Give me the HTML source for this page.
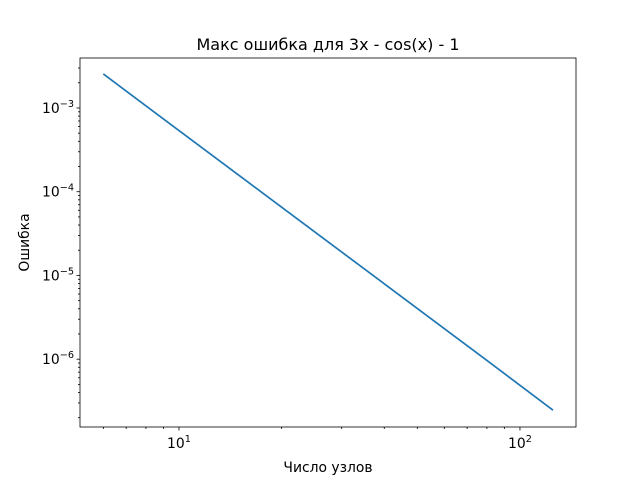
<!DOCTYPE html>
<html><head><meta charset="utf-8"><style>body{margin:0;background:#fff}svg{font-family:"DejaVu Sans","Liberation Sans",sans-serif}</style></head>
<body>
<svg id="chart" width="640" height="480" xmlns="http://www.w3.org/2000/svg">
<rect width="640" height="480" fill="#fff"/>
<text x="328" y="50" font-size="16" text-anchor="middle">Макс ошибка для 3x - cos(x) - 1</text>
<text x="328" y="472" font-size="13.9" text-anchor="middle">Число узлов</text>
<text transform="translate(29,242.5) rotate(-90)" font-size="13.9" text-anchor="middle">Ошибка</text>
<g id="ticks"></g>
<path id="line" fill="none" stroke="#1f77b4" stroke-width="1.7"/>
<rect x="80" y="58" width="496" height="369" fill="none" stroke="#000" stroke-width="0.8"/>
</svg>
<script>
const nodes = [6, 10, 20, 40, 80, 125];
const errors = [2.55e-3, 5.37e-4, 6.53e-5, 7.95e-6, 9.66e-7, 2.46e-7];
const xMajor = [1, 2];
const yMajor = [-3, -4, -5, -6];
const L=80,R=576,T=58,B=427;
const xl0=Math.log10(5.125), xl1=Math.log10(146);
const yl0=-6.81, yl1=-2.403;
const X=v=>L+(Math.log10(v)-xl0)/(xl1-xl0)*(R-L);
const Y=v=>B-(Math.log10(v)-yl0)/(yl1-yl0)*(B-T);
const NS="http://www.w3.org/2000/svg";
const g=document.getElementById('ticks');
function ln(x1,y1,x2,y2,name){const e=document.createElementNS(NS,'line');
e.setAttribute('x1',x1);e.setAttribute('y1',y1);e.setAttribute('x2',x2);e.setAttribute('y2',y2);
e.setAttribute('stroke','#000');e.setAttribute('stroke-width','0.8');


g.appendChild(e);}
function lbl(x,y,exp,anchor,name){const t=document.createElementNS(NS,'text');
t.setAttribute('x',x);t.setAttribute('y',y);t.setAttribute('font-size','13.9');t.setAttribute('text-anchor',anchor);
t.innerHTML='10<tspan font-size="9.7" dy="-6">'+exp+'</tspan>';


g.appendChild(t);}
for(let d=0;d<=2;d++)for(let m=1;m<10;m++){const v=m*Math.pow(10,d);if(v<5.125||v>146)continue;
const x=X(v);if(m===1){ln(x,B,x,B+3.5,'x-major-tick');lbl(x,B+21,String(d),'middle','x-tick-label');}else ln(x,B,x,B+2,'x-minor-tick');}
for(let d=-7;d<=-3;d++)for(let m=1;m<10;m++){const v=m*Math.pow(10,d);const lv=Math.log10(v);if(lv<yl0||lv>yl1)continue;
const y=Y(v);if(m===1){ln(L-3.5,y,L,y,'y-major-tick');lbl(L-6,y+5,'−'+(-d),'end','y-tick-label');}else ln(L-2,y,L,y,'y-minor-tick');}
document.getElementById('line').setAttribute('d',nodes.map((n,i)=>(i?'L':'M')+X(n).toFixed(2)+','+Y(errors[i]).toFixed(2)).join(''));
</script>
</body></html>
